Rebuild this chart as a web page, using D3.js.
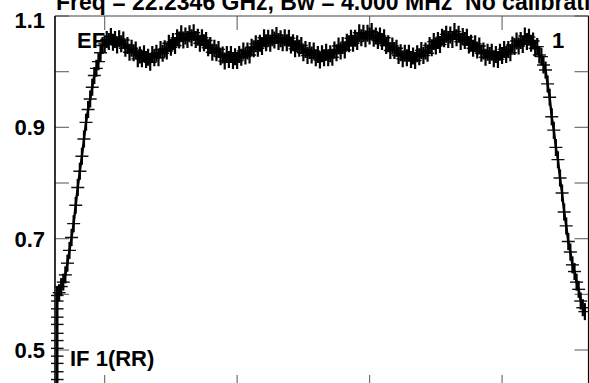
<!DOCTYPE html>
<html>
<head>
<meta charset="utf-8">
<script src="https://cdn.jsdelivr.net/npm/d3@7"></script>
<style>
body { margin: 0; background: #fff; }
svg text { font-family: "Liberation Sans", Arial, sans-serif; font-weight: bold; }
</style>
</head>
<body>
<script>
//Width and height
var w = 589;
var h = 383;

var titleText = "Freq = 22.2346 GHz, Bw = 4.000 MHz  No calibration applied";
var antennaLabel = "EF";
var sourceLabel = "1";
var ifLabel = "IF 1(RR)";

var yTicks = [0.5, 0.6, 0.7, 0.8, 0.9, 1.0, 1.1];
var yLabels = [0.5, 0.7, 0.9, 1.1];
var xTicks = [24, 88, 152, 216];

// bandpass amplitude, channels 1..256
var amp = [
  0.598, 0.603, 0.614, 0.622, 0.635, 0.656, 0.679, 0.702, 0.727, 0.760,
  0.792, 0.821, 0.848, 0.879, 0.909, 0.932, 0.951, 0.972, 0.993, 1.006,
  1.018, 1.034, 1.047, 1.050, 1.058, 1.054, 1.063, 1.053, 1.058, 1.048,
  1.059, 1.050, 1.057, 1.042, 1.047, 1.035, 1.042, 1.034, 1.039, 1.023,
  1.030, 1.023, 1.032, 1.022, 1.026, 1.017, 1.031, 1.025, 1.033, 1.025,
  1.040, 1.033, 1.041, 1.037, 1.051, 1.044, 1.054, 1.047, 1.061, 1.057,
  1.068, 1.057, 1.064, 1.058, 1.068, 1.061, 1.070, 1.058, 1.062, 1.051,
  1.061, 1.052, 1.056, 1.043, 1.047, 1.035, 1.042, 1.034, 1.040, 1.027,
  1.030, 1.019, 1.031, 1.022, 1.031, 1.020, 1.027, 1.020, 1.031, 1.026,
  1.037, 1.028, 1.037, 1.030, 1.044, 1.041, 1.050, 1.042, 1.051, 1.045,
  1.061, 1.052, 1.060, 1.051, 1.061, 1.057, 1.065, 1.054, 1.059, 1.052,
  1.061, 1.052, 1.060, 1.048, 1.052, 1.041, 1.050, 1.042, 1.047, 1.034,
  1.040, 1.029, 1.038, 1.030, 1.037, 1.025, 1.031, 1.021, 1.032, 1.025,
  1.035, 1.025, 1.032, 1.026, 1.039, 1.034, 1.046, 1.037, 1.047, 1.039,
  1.053, 1.050, 1.060, 1.051, 1.060, 1.054, 1.070, 1.061, 1.069, 1.059,
  1.069, 1.064, 1.072, 1.060, 1.064, 1.056, 1.064, 1.054, 1.061, 1.047,
  1.050, 1.038, 1.046, 1.038, 1.042, 1.029, 1.034, 1.023, 1.033, 1.025,
  1.033, 1.022, 1.028, 1.020, 1.032, 1.027, 1.038, 1.029, 1.037, 1.033,
  1.047, 1.043, 1.054, 1.046, 1.056, 1.049, 1.062, 1.059, 1.067, 1.058,
  1.066, 1.058, 1.072, 1.061, 1.067, 1.054, 1.063, 1.056, 1.062, 1.048,
  1.051, 1.042, 1.050, 1.039, 1.046, 1.033, 1.037, 1.026, 1.035, 1.029,
  1.035, 1.023, 1.031, 1.022, 1.035, 1.029, 1.040, 1.031, 1.040, 1.034,
  1.048, 1.045, 1.055, 1.046, 1.056, 1.049, 1.064, 1.054, 1.062, 1.051,
  1.055, 1.042, 1.045, 1.030, 1.027, 1.012, 1.003, 0.978, 0.954, 0.919,
  0.895, 0.864, 0.842, 0.809, 0.782, 0.748, 0.723, 0.695, 0.676, 0.653,
  0.641, 0.622, 0.609, 0.588, 0.576, 0.569
];

// extra (low) records in the first channel
var ch1Scatter = [0.433, 0.447, 0.461, 0.476, 0.489, 0.503, 0.517, 0.530, 0.546, 0.559, 0.574, 0.588];

// plot frame
var fLeft = 55, fTop = 16, fRight = 588.5, fBottom = 389;

var xScale = d3.scaleLinear()
    .domain([0, 258])
    .range([fLeft, 589]);

var yScale = d3.scaleLinear()
    .domain([0.43, 1.1])
    .range([fBottom, fTop]);

var points = ch1Scatter.map(function(v) { return [1, v]; })
    .concat(amp.map(function(v, i) { return [i + 1, v]; }));

//Create SVG element
var svg = d3.select("body")
    .append("svg")
    .attr("width", w)
    .attr("height", h);

svg.append("clipPath")
    .attr("id", "plotclip")
    .append("rect")
    .attr("x", fLeft - 4)
    .attr("y", fTop)
    .attr("width", fRight - fLeft + 8)
    .attr("height", fBottom - fTop);

// ticks
var tickColor = "#707070";
var tl = 14;
var ticks = svg.append("g")
    .attr("stroke", tickColor)
    .attr("stroke-width", 1.2);

yTicks.forEach(function(v) {
    var y = yScale(v);
    ticks.append("line").attr("x1", fLeft).attr("x2", fLeft + tl).attr("y1", y).attr("y2", y);
    ticks.append("line").attr("x1", fRight).attr("x2", fRight - tl).attr("y1", y).attr("y2", y);
});
xTicks.forEach(function(c) {
    var x = xScale(c);
    ticks.append("line").attr("x1", x).attr("x2", x).attr("y1", fTop).attr("y2", fTop + tl);
    ticks.append("line").attr("x1", x).attr("x2", x).attr("y1", fBottom).attr("y2", fBottom - tl);
});

// frame
svg.append("line")
    .attr("x1", fLeft).attr("x2", fRight).attr("y1", fTop).attr("y2", fTop)
    .attr("stroke", "#444").attr("stroke-width", 1.2);
svg.append("line")
    .attr("x1", fLeft).attr("x2", fLeft).attr("y1", fTop).attr("y2", fBottom)
    .attr("stroke", "#000").attr("stroke-width", 1.6);
svg.append("line")
    .attr("x1", fRight).attr("x2", fRight).attr("y1", fTop).attr("y2", fBottom)
    .attr("stroke", "#000").attr("stroke-width", 1.2);

// y tick labels
svg.selectAll("text.ylab")
    .data(yLabels)
    .enter()
    .append("text")
    .attr("class", "ylab")
    .attr("x", 45)
    .attr("y", function(d) { return Math.max(yScale(d), 20); })
    .attr("dy", "0.36em")
    .attr("text-anchor", "end")
    .attr("font-size", "22px")
    .text(function(d) { return d3.format(".1f")(d); });

// title (runs off the top and right of the page, as in the original plot)
svg.append("text")
    .attr("x", 56).attr("y", 10)
    .attr("font-size", "23px")
    .attr("xml:space", "preserve")
    .style("white-space", "pre")
    .text(titleText);

// plot labels
svg.append("text")
    .attr("x", 77).attr("y", 48)
    .attr("font-size", "22px")
    .text(antennaLabel);
svg.append("text")
    .attr("x", 552).attr("y", 48)
    .attr("font-size", "22px")
    .text(sourceLabel);
svg.append("text")
    .attr("x", 70).attr("y", 366)
    .attr("font-size", "22px")
    .text(ifLabel);

// data
var plot = svg.append("g").attr("clip-path", "url(#plotclip)");

var line = d3.line()
    .x(function(d) { return xScale(d[0]); })
    .y(function(d) { return yScale(d[1]); });

plot.append("path")
    .datum(points)
    .attr("d", line)
    .attr("fill", "none")
    .attr("stroke", "#000")
    .attr("stroke-width", 2.4);

// "+" markers: thin horizontal bar, heavier vertical bar
plot.selectAll("path.hbar")
    .data(points)
    .enter()
    .append("path")
    .attr("class", "hbar")
    .attr("d", function(d) {
        var x = xScale(d[0]), y = yScale(d[1]);
        return "M" + (x - 6.5) + "," + y + "H" + (x + 6.5);
    })
    .attr("stroke", "#111")
    .attr("stroke-width", 1.4);

plot.selectAll("path.vbar")
    .data(points)
    .enter()
    .append("path")
    .attr("class", "vbar")
    .attr("d", function(d) {
        var x = xScale(d[0]), y = yScale(d[1]);
        return "M" + x + "," + (y - 8.5) + "V" + (y + 8.5);
    })
    .attr("stroke", "#000")
    .attr("stroke-width", 2.2);
</script>
</body>
</html>
